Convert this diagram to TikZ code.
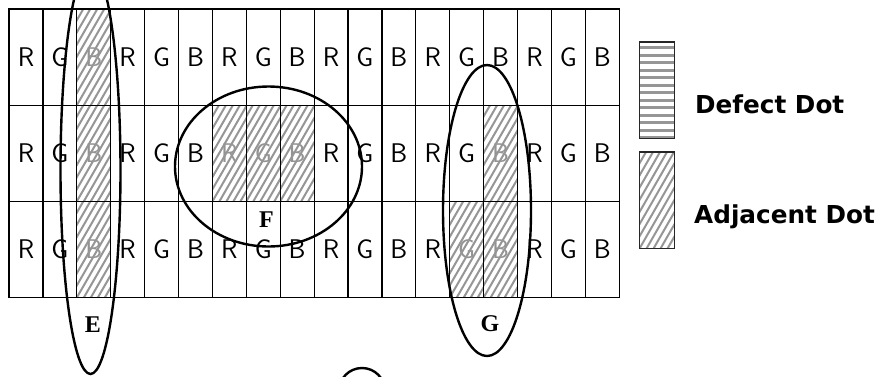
\documentclass[tikz,border=0pt]{standalone}
\usepackage{fontspec}
\usetikzlibrary{shapes.geometric}
\newfontfamily\legendfont{DejaVu Sans}
\newfontfamily\labelfont{Liberation Serif}
\definecolor{hatchgray}{RGB}{150,150,150}
\begin{document}
\begin{tikzpicture}[x=1pt,y=-1pt,
  cell/.style={draw, line width=1.2pt, minimum width=33.9pt, minimum height=96.2pt,
    inner sep=0pt, outer sep=0pt, font=\sffamily\fontsize{27}{27}\selectfont},
  hletter/.style={inner sep=0pt, text=gray!85, font=\sffamily\fontsize{27}{27}\selectfont},
  hatchline/.style={draw=hatchgray, line width=2pt},
  stripe/.style={draw=hatchgray, line width=2.6pt},
  ring/.style={draw, ellipse, line width=2.4pt, inner sep=0pt, outer sep=0pt},
  lbl/.style={font=\labelfont\bfseries\fontsize{24}{24}\selectfont, inner sep=0pt},
  legtext/.style={font=\legendfont\bfseries\fontsize{24.7}{24.7}\selectfont, anchor=base west, inner sep=0pt},
  legbox/.style={draw=black!85, line width=1.6pt, minimum width=34.7pt, minimum height=96.6pt,
    inner sep=0pt, outer sep=0pt}
]
\useasboundingbox (0,0) rectangle (880,376);
\fill[white] (0,0) rectangle (880,376);

% grid cells
\foreach \r in {1,2,3} {
  \foreach \c/\t in {1/R,2/G,3/B,4/R,5/G,6/B,7/R,8/G,9/B,10/R,11/G,12/B,13/R,14/G,15/B,16/R,17/G,18/B} {
    \node[cell] (c-\r-\c) at ({9+33.9*(\c-0.5)},{9+96.2*(\r-0.5)}) {\t};
  }
}

% hatched (adjacent) cells
\foreach \r/\c/\t in {1/3/B,2/3/B,3/3/B,2/7/R,2/8/G,2/9/B,2/15/B,3/14/G,3/15/B} {
  \fill[white] (c-\r-\c.south west) rectangle (c-\r-\c.north east);
  \node[hletter] (t-\r-\c) at (c-\r-\c) {\t};
  \begin{scope}
    \clip (c-\r-\c.south west) rectangle (c-\r-\c.north east);
    \foreach \k in {-63,-56,...,35}
      \draw[hatchline] ([xshift=\k pt]c-\r-\c.south west) -- ++(55.5,-96.2);
  \end{scope}
  \draw[line width=1.2pt] (c-\r-\c.south west) rectangle (c-\r-\c.north east);
}

% legend
\node[legbox] (defect) at (657,90) {};
\begin{scope}
  \clip (defect.south west) rectangle (defect.north east);
  \foreach \s in {0,...,12}
    \draw[stripe] ([yshift={-6pt-7.5pt*\s}]defect.north west) -- ++(34.7,0);
\end{scope}
\draw[draw=black!85, line width=1.6pt] (defect.south west) rectangle (defect.north east);

\node[legbox] (adj) at (657,200) {};
\begin{scope}
  \clip (adj.south west) rectangle (adj.north east);
  \foreach \k in {-63,-56,...,35}
    \draw[hatchline] ([xshift=\k pt]adj.south west) -- ++(55.5,-96.6);
\end{scope}
\draw[draw=black!85, line width=1.6pt] (adj.south west) rectangle (adj.north east);

\node[legtext] (tdef) at (695,113) {Defect Dot};
\node[legtext] (tadj) at (694,223) {Adjacent Dot};

% rings
\node[ring, minimum width=60pt, minimum height=408pt] (E) at (90.5,170) {};
\node[ring, minimum width=187pt, minimum height=160pt] (F) at (268.5,166.5) {};
\node[ring, minimum width=88pt, minimum height=291pt] (G) at (487,210.5) {};
\node[ring, minimum width=46pt, minimum height=46pt] (H) at (362,391) {};

% labels
\node[lbl] (lE) at (93,325) {E};
\node[lbl] (lF) at (266.5,219.5) {F};
\node[lbl] (lG) at (490,324) {G};
\end{tikzpicture}
\end{document}
